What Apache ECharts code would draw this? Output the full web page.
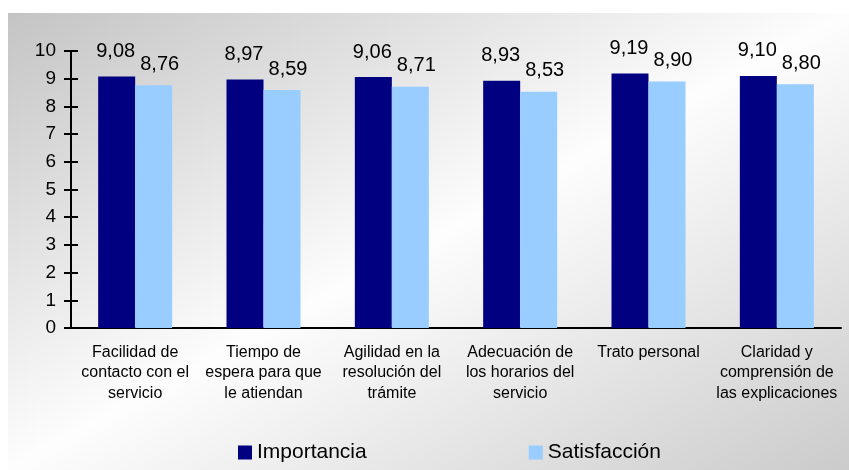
<!DOCTYPE html>
<html>
<head>
<meta charset="utf-8">
<script src="https://cdn.jsdelivr.net/npm/echarts@6/dist/echarts.min.js"></script>
<style>
  html, body { margin: 0; padding: 0; background: #fff; }
  #chart { width: 849px; height: 470px; }
</style>
</head>
<body>
<div id="chart"></div>
<script>
const categories = [
  "Facilidad de\ncontacto con el\nservicio",
  "Tiempo de\nespera para que\nle atiendan",
  "Agilidad en la\nresolución del\ntrámite",
  "Adecuación de\nlos horarios del\nservicio",
  "Trato personal",
  "Claridad y\ncomprensión de\nlas explicaciones"
];
const importancia = [9.08, 8.97, 9.06, 8.93, 9.19, 9.10];
const satisfaccion = [8.76, 8.59, 8.71, 8.53, 8.90, 8.80];

const font = "'Liberation Sans', Arial, sans-serif";
const comma = p => p.value.toFixed(2).replace(".", ",");

let myChart = echarts.init(document.getElementById("chart"));
myChart.setOption({
  backgroundColor: "#ffffff",
  textStyle: { fontFamily: font },
  graphic: [
    {
      type: "rect",
      z: -10,
      shape: { x: 8, y: 13, width: 841, height: 457 },
      style: {
        // gris arriba-izq y abajo-der, blanco en la diagonal
        fill: new echarts.graphic.LinearGradient(0, 0, 0.456, 1.544, [
          { offset: 0, color: "#c4c4c4" },
          { offset: 0.5, color: "#fdfdfd" },
          { offset: 1, color: "#cbcbcb" }
        ])
      }
    }
  ],
  legend: {
    data: ["Importancia", "Satisfacción"],
    left: 233,
    top: 437,
    itemWidth: 14,
    itemHeight: 14,
    itemGap: 162,
    icon: "rect",
    textStyle: { fontSize: 21, color: "#000", fontFamily: font }
  },
  grid: {
    left: 71,
    right: 8,
    top: 51,
    bottom: 142
  },
  xAxis: [
    {
      type: "category",
      data: categories,
      axisLine: { lineStyle: { color: "#000", width: 2 } },
      axisTick: { length: 6, lineStyle: { color: "#000", width: 2 } },
      axisLabel: {
        interval: 0,
        margin: 14,
        fontSize: 16,
        lineHeight: 20.5,
        color: "#000",
        fontFamily: font
      }
    },
    {
      type: "category",
      data: categories,
      position: "bottom",
      axisLine: { show: false },
      axisTick: { inside: true, length: 6, lineStyle: { color: "#000", width: 2 } },
      axisLabel: { show: false }
    }
  ],
  yAxis: [
    {
      type: "value",
      min: 0,
      max: 10,
      interval: 1,
      splitLine: { show: false },
      axisLine: { show: true, lineStyle: { color: "#000", width: 2 } },
      axisTick: { show: true, length: 7, lineStyle: { color: "#000", width: 2 } },
      axisLabel: { margin: 15, fontSize: 19, color: "#000", fontFamily: font }
    },
    {
      type: "value",
      min: 0,
      max: 10,
      interval: 1,
      position: "left",
      splitLine: { show: false },
      axisLine: { show: false },
      axisTick: { show: true, inside: true, length: 7, lineStyle: { color: "#000", width: 2 } },
      axisLabel: { show: false }
    }
  ],
  series: [
    {
      name: "Importancia",
      type: "bar",
      data: importancia,
      barWidth: 37,
      barGap: "0%",
      itemStyle: { color: "#000080" },
      label: {
        show: true,
        position: "top",
        distance: 15,
        offset: [-1, 0],
        fontSize: 20,
        color: "#000",
        fontFamily: font,
        formatter: comma
      }
    },
    {
      name: "Satisfacción",
      type: "bar",
      data: satisfaccion,
      barWidth: 37,
      itemStyle: { color: "#99ccff" },
      label: {
        show: true,
        position: "top",
        distance: 11,
        offset: [6, 0],
        fontSize: 20,
        color: "#000",
        fontFamily: font,
        formatter: comma
      }
    }
  ]
});
</script>
</body>
</html>
